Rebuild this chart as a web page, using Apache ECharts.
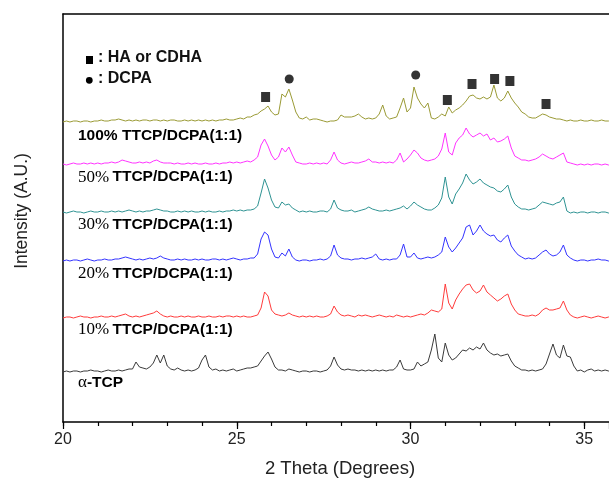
<!DOCTYPE html>
<html><head><meta charset="utf-8">
<script src="https://cdn.jsdelivr.net/npm/echarts@6/dist/echarts.min.js"></script>
<style>html,body{margin:0;padding:0;background:#fff}#c{width:609px;height:481px}</style>
</head><body><div id="c"></div>
<script>
// 2-theta sampling: first value and step (degrees)
const thetaStart = 20, thetaStep = 0.1;
const xTicks = [20, 25, 30, 35];
const xMin = 20, xMax = 35.712;

// Intensities above each trace's own baseline (arbitrary units), one value per 0.1 degree from 20.0
const alphaTCP = [
 0,1,0,1,1,0,1,1,2,1, 1,0,1,2,1,1,2,1,2,3, 3,10,5,4,3,5,9,17,9,17, 6,3,2,4,2,1,2,1,2,4,
 12,17,5,2,3,1,2,1,2,3, 1,2,3,4,4,5,6,11,16,20, 13,5,2,2,1,3,2,1,0,1, 1,0,1,1,0,1,2,6,15,7,
 3,2,3,2,2,1,2,1,2,1, 2,1,2,1,2,2,5,12,3,2, 2,3,10,6,8,10,22,38,14,10, 29,17,12,14,18,22,21,24,22,25,
 23,29,22,19,17,18,16,17,18,11, 6,4,2,2,1,2,1,2,3,8, 18,28,17,14,27,16,15,6,1,2, 0,2,3,1,2,1,2,1,1];
const p10 = [
 0,1,1,0,1,2,1,1,0,1, 1,2,1,1,2,1,2,3,4,2, 1,2,1,2,3,4,5,7,4,2, 1,2,1,1,2,1,2,1,1,2,
 1,1,2,1,1,2,1,2,2,1, 2,1,2,1,1,2,3,10,26,22, 8,4,3,2,3,5,3,2,1,2, 1,2,1,2,1,1,2,4,12,6,
 3,2,3,2,1,3,2,3,2,1, 2,3,2,1,2,1,3,2,1,2, 1,2,3,4,3,5,8,7,6,9, 34,15,9,18,24,29,33,34,28,25,
 27,33,26,23,20,17,19,22,24,14, 8,4,3,2,2,3,2,4,8,10, 8,8,9,10,17,8,3,1,0,1, 2,1,0,1,2,1,0,1,1];
const p20 = [
 0,1,0,1,1,0,1,2,1,0, 1,1,2,1,1,2,2,3,4,3, 2,1,2,1,2,3,2,3,5,3, 2,1,1,2,1,2,1,1,2,1,
 2,1,1,2,2,1,2,1,2,3, 2,1,2,2,3,3,7,22,29,26, 12,4,3,8,5,12,4,1,0,1, 1,0,1,1,2,1,2,5,16,6,
 3,2,2,1,2,2,3,2,3,4, 7,2,1,2,1,2,2,6,17,4, 4,8,3,2,3,4,3,4,6,9, 24,14,9,13,18,23,34,36,26,30,
 36,30,27,25,26,21,19,23,26,15, 10,6,4,2,3,2,3,6,9,11, 7,5,6,9,16,6,3,1,0,1, 1,0,1,1,2,1,1,0,1];
const p30 = [
 1,0,1,2,1,1,0,1,2,1, 1,2,1,1,2,1,2,1,2,3, 2,1,2,1,2,2,3,4,3,2, 2,1,1,2,1,2,1,2,1,1,
 2,1,2,1,1,2,1,2,2,3, 2,3,2,3,3,4,7,20,34,25, 13,6,5,11,8,9,5,3,1,2, 1,2,1,1,2,2,1,4,13,5,
 3,2,2,3,1,2,3,4,6,4, 3,2,2,3,2,3,4,5,7,4, 7,11,8,6,4,3,3,5,8,15, 36,16,9,19,24,30,39,33,29,31,
 34,30,28,26,25,22,21,24,28,16, 9,6,4,4,3,4,5,8,11,10, 9,8,10,11,16,2,0,1,0,1, 1,0,1,1,0,1,1,0,1];
const p50 = [
 1,0,1,2,1,1,2,1,2,1, 2,1,2,2,3,2,3,5,4,3, 2,2,3,2,3,2,4,5,3,2, 2,2,1,2,1,1,2,1,2,1,
 1,2,1,1,2,1,2,2,3,2, 3,2,3,4,3,5,8,20,26,19, 10,5,8,17,13,18,10,3,2,1, 1,2,1,2,1,2,1,5,13,5,
 2,1,2,3,2,2,3,4,6,3, 3,2,3,2,3,2,5,12,3,6, 10,15,12,7,5,4,5,6,9,16, 32,13,10,22,27,30,37,31,28,30,
 32,29,31,25,27,23,24,26,29,17, 9,7,5,5,4,5,6,8,11,9, 7,6,8,10,12,3,2,1,0,1, 0,1,0,1,1,0,1,0,1];
const p100 = [
 0,1,0,1,1,0,1,1,0,1, 1,2,1,1,2,2,3,2,1,2, 1,2,1,2,2,1,2,2,1,2, 1,2,2,1,1,2,1,2,1,2,
 1,2,1,2,1,2,2,3,2,2, 3,4,3,5,5,7,8,11,13,16, 10,7,8,28,25,33,22,10,4,3, 5,2,3,3,2,1,0,1,1,2,
 7,5,5,5,6,8,5,3,4,3, 4,8,17,6,3,4,5,14,24,10, 14,35,24,18,14,19,4,3,5,8, 6,15,9,12,14,17,21,26,27,24,
 23,25,23,25,37,24,21,24,31,24, 19,15,10,8,5,4,4,6,8,7, 5,4,3,3,2,1,2,1,1,2, 1,1,2,1,1,2,1,1,1];

// Vertical offsets of the stacked traces
const traceNames = ['α-TCP','10% TTCP/DCPA(1:1)','20% TTCP/DCPA(1:1)','30% TTCP/DCPA(1:1)','50% TTCP/DCPA(1:1)','100% TTCP/DCPA(1:1)'];
const traceData = [alphaTCP, p10, p20, p30, p50, p100];
const traceOffsets = [50, 104, 161, 209, 257, 300];
const traceColors = ['#3a3a3a', '#ff3b3b', '#3333ff', '#2f9393', '#ff33ff', '#9a9a35'];

// Phase markers (2θ, height on the stacked scale)
const haX = [25.83, 31.06, 31.77, 32.42, 32.86, 33.90];
const haY = [325, 322, 338, 343, 341, 318];
const dcpaX = [26.51, 30.15];
const dcpaY = [343, 347];

const series = traceData.map((arr, k) => ({
  type: 'line', name: traceNames[k], showSymbol: false, silent: true,
  lineStyle: { color: traceColors[k], width: 1 },
  data: arr.map((v, i) => [thetaStart + i * thetaStep, traceOffsets[k] + v])
}));
series.push({ type: 'scatter', symbol: 'rect', symbolSize: [9, 10], itemStyle: { color: '#000' },
  data: haX.map((x, i) => [x, haY[i]]) });
series.push({ type: 'scatter', symbol: 'circle', symbolSize: 9, itemStyle: { color: '#000' },
  data: dcpaX.map((x, i) => [x, dcpaY[i]]) });

const chart = echarts.init(document.getElementById('c'), null, { renderer: 'canvas' });
const labelPos = [383.3, 330, 274, 225.3, 177.7, 136.3];
const rich = {
  s: { fontFamily: 'Liberation Serif', fontSize: 17, color: '#111' },
  b: { fontFamily: 'Liberation Sans', fontWeight: 'bold', fontSize: 15.5, color: '#111' }
};
const labelTexts = ['{s|α}{b|-TCP}', '{s|10%} {b|TTCP/DCPA(1:1)}', '{s|20%} {b|TTCP/DCPA(1:1)}',
  '{s|30%} {b|TTCP/DCPA(1:1)}', '{s|50%} {b|TTCP/DCPA(1:1)}', '{b|100% TTCP/DCPA(1:1)}'];
const graphics = labelTexts.map((t, k) => ({
  type: 'text', left: 78, top: labelPos[k] - 9,
  style: { text: t, rich: rich }
}));
graphics.push({ type: 'rect', shape: { x: 86, y: 56, width: 7, height: 8 }, style: { fill: '#000' } });
graphics.push({ type: 'circle', shape: { cx: 89.3, cy: 80.3, r: 3.4 }, style: { fill: '#000' } });
graphics.push({ type: 'text', left: 98, top: 50, style: { text: ': HA or CDHA', font: 'bold 16px "Liberation Sans"', fill: '#111' } });
graphics.push({ type: 'text', left: 98, top: 71, style: { text: ': DCPA', font: 'bold 16px "Liberation Sans"', fill: '#111' } });
graphics.push({ type: 'text', x: 21.7, y: 211, rotation: Math.PI / 2,
  style: { text: 'Intensity (A.U.)', font: '17.5px "Liberation Sans"', fill: '#222', align: 'center', verticalAlign: 'middle' } });
graphics.push({ type: 'text', x: 340, y: 469,
  style: { text: '2 Theta (Degrees)', font: '18.5px "Liberation Sans"', fill: '#222', align: 'center', verticalAlign: 'middle' } });

chart.setOption({
  animation: false,
  backgroundColor: '#fff',
  grid: { left: 63, top: 14, right: 0, bottom: 59, show: false },
  xAxis: [
    { type: 'value', position: 'bottom', min: xMin, max: xMax, interval: 1,
      axisLine: { show: true, lineStyle: { color: '#000', width: 1.5 } },
      axisTick: { show: true, length: 4, lineStyle: { color: '#000', width: 1.2 } },
      splitLine: { show: false },
      axisLabel: { margin: 10, fontSize: 16, fontFamily: 'Liberation Sans', color: '#222',
        showMaxLabel: false,
        formatter: v => xTicks.indexOf(v) >= 0 ? String(v) : '' } },
    { type: 'value', position: 'bottom', min: xMin, max: xMax, interval: 5,
      axisLine: { show: false },
      axisTick: { show: true, length: 7, lineStyle: { color: '#000', width: 1.2 } },
      splitLine: { show: false }, axisLabel: { show: false } },
    { type: 'value', position: 'top', min: xMin, max: xMax, interval: 5,
      axisLine: { show: true, onZero: false, lineStyle: { color: '#000', width: 1.5 } },
      axisTick: { show: false }, splitLine: { show: false }, axisLabel: { show: false } }
  ],
  yAxis: {
    type: 'value', min: 0, max: 408,
    axisLine: { show: true, lineStyle: { color: '#000', width: 1.5 } },
    axisTick: { show: false }, axisLabel: { show: false }, splitLine: { show: false }
  },
  series: series,
  graphic: graphics
});
</script></body></html>
